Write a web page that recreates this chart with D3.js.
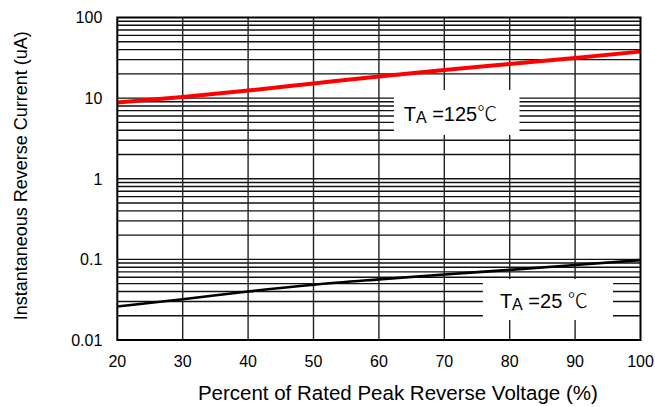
<!DOCTYPE html>
<html>
<head>
<meta charset="utf-8">
<script src="https://cdn.jsdelivr.net/npm/d3@7"></script>
<style>
  body { margin: 0; background: #fff; }
  text { font-family: Arial, "Liberation Sans", sans-serif; fill: #000; }
</style>
</head>
<body>
<div id="chart"></div>
<script>
// Percent of rated peak reverse voltage
const voltage = [20, 30, 40, 50, 60, 70, 80, 90, 100];
// Reverse current (uA) at each voltage
const current125 = [8.8, 10.3, 12.4, 15.2, 18.6, 22.3, 26.5, 31.5, 37.8];
const current25 = [0.026, 0.032, 0.040, 0.0485, 0.0565, 0.065, 0.074, 0.085, 0.098];

const xTicks = [20, 30, 40, 50, 60, 70, 80, 90, 100];
const yTicks = [0.01, 0.1, 1, 10, 100];
const yTickLabels = ['0.01', '0.1', '1', '10', '100'];

const margin = { top: 17.5, right: 14.5, bottom: 67, left: 117.3 };
const width = 655 - margin.left - margin.right;
const height = 407 - margin.top - margin.bottom;

const svg = d3.select('#chart')
  .append('svg')
  .attr('width', 655)
  .attr('height', 407);

const g = svg.append('g')
  .attr('transform', `translate(${margin.left},${margin.top})`);

const x = d3.scaleLinear().domain([20, 100]).range([0, width]);
const y = d3.scaleLog().domain([0.01, 100]).range([height, 0]);

// Minor + major horizontal grid (1..9 per decade)
const hGrid = [];
for (let d = -2; d < 2; d++) {
  for (let m = 1; m <= 9; m++) hGrid.push(m * Math.pow(10, d));
}

g.append('g')
  .selectAll('line')
  .data(hGrid)
  .enter().append('line')
  .attr('x1', 0)
  .attr('x2', width)
  .attr('y1', d => y(d))
  .attr('y2', d => y(d))
  .attr('stroke', '#111')
  .attr('stroke-width', 1.4);

// Vertical grid
g.append('g')
  .selectAll('line')
  .data(xTicks.slice(1, -1))
  .enter().append('line')
  .attr('x1', d => x(d))
  .attr('x2', d => x(d))
  .attr('y1', 0)
  .attr('y2', height)
  .attr('stroke', '#222')
  .attr('stroke-width', 1.4);

// Curves
const line = d3.line()
  .x(d => x(d[0]))
  .y(d => y(d[1]))
  .curve(d3.curveMonotoneX);

g.append('path')
  .datum(voltage.map((v, i) => [v, current125[i]]))
  .attr('d', line)
  .attr('fill', 'none')
  .attr('stroke', '#ff0000')
  .attr('stroke-width', 4);

g.append('path')
  .datum(voltage.map((v, i) => [v, current25[i]]))
  .attr('d', line)
  .attr('fill', 'none')
  .attr('stroke', '#000')
  .attr('stroke-width', 2.6);

// Label boxes (white patches over the grid)
const boxes = [
  { x0: 62.3, x1: 81.5, y0: 12.6, y1: 3.5 },
  { x0: 75.9, x1: 95.8, y0: 0.057, y1: 0.0177 }
];
g.append('g')
  .selectAll('rect')
  .data(boxes)
  .enter().append('rect')
  .attr('x', d => x(d.x0))
  .attr('y', d => y(d.y0))
  .attr('width', d => x(d.x1) - x(d.x0))
  .attr('height', d => y(d.y1) - y(d.y0))
  .attr('fill', '#fff');

// Frame
g.append('rect')
  .attr('x', 0)
  .attr('y', 0)
  .attr('width', width)
  .attr('height', height)
  .attr('fill', 'none')
  .attr('stroke', '#000')
  .attr('stroke-width', 2);

// Labels
const labels = [
  { vx: 63.8, vy: 5.2, temp: '125', gap: '' },
  { vx: 78.5, vy: 0.025, temp: '25', gap: ' ' }
];
labels.forEach(l => {
  const t = g.append('text')
    .attr('x', x(l.vx))
    .attr('y', y(l.vy))
    .style('font-size', '20px');
  t.append('tspan').text('T');
  t.append('tspan').attr('dy', 2).style('font-size', '16px').text('A');
  t.append('tspan').attr('dy', -2).text(' =' + l.temp + l.gap);
  t.append('tspan')
    .style('font-family', '"Noto Sans CJK SC", "DejaVu Sans", sans-serif')
    .style('font-weight', 300)
    .text('\u2103');
});

// Y tick labels
g.append('g')
  .selectAll('text')
  .data(yTicks)
  .enter().append('text')
  .attr('x', -15)
  .attr('y', d => y(d))
  .attr('dy', '0.36em')
  .attr('text-anchor', 'end')
  .style('font-size', '16px')
  .text((d, i) => yTickLabels[i]);

// X tick labels
g.append('g')
  .selectAll('text')
  .data(xTicks)
  .enter().append('text')
  .attr('x', d => x(d))
  .attr('y', height + 27)
  .attr('text-anchor', 'middle')
  .style('font-size', '16px')
  .text(d => d);

// Axis titles
g.append('text')
  .attr('x', x(62.9))
  .attr('y', height + 59.5)
  .attr('text-anchor', 'middle')
  .style('font-size', '20.5px')
  .text('Percent of Rated Peak Reverse Voltage (%)');

g.append('text')
  .attr('transform', `translate(${27 - margin.left},${height / 2 - 3}) rotate(-90)`)
  .attr('text-anchor', 'middle')
  .style('font-size', '18px')
  .text('Instantaneous Reverse Current (uA)');
</script>
</body>
</html>
